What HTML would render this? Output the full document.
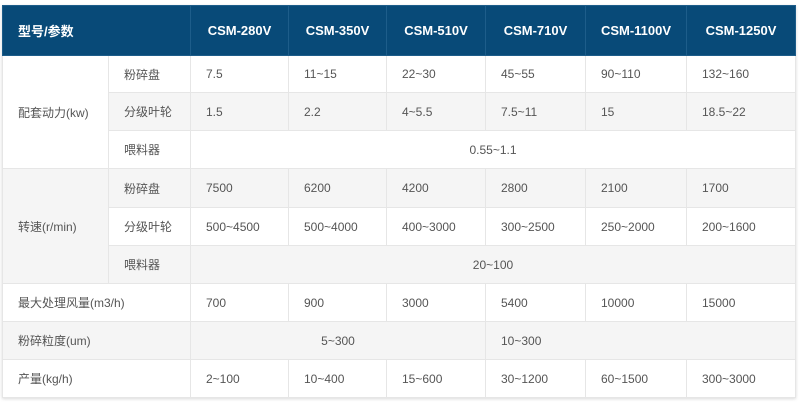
<!DOCTYPE html>
<html><head><meta charset="utf-8"><style>
html,body{margin:0;padding:0;background:#fff;width:800px;height:403px;overflow:hidden}
table{position:absolute;left:2px;top:5px;border-collapse:collapse;table-layout:fixed;width:793px;
font-family:"Liberation Sans","Noto Sans CJK SC",sans-serif;font-size:12px;color:#555;box-shadow:0 1px 3px rgba(0,0,0,0.15)}
td,th{border:1px solid #e6e6e6;padding:0 0 0 15px;text-align:left;white-space:nowrap;overflow:hidden}
th{background:#084a78;color:#fff;font-weight:bold;font-size:13px;text-align:center;padding:0;border-color:#1d5d8a}
th.l{text-align:left;padding-left:15px}
tr.g td{background:#f5f5f5}
td.w{background:#fff!important}
td.c{text-align:center;padding:0}
</style></head><body>
<table>
<colgroup><col style="width:106px"><col style="width:82px"><col style="width:98px"><col style="width:98px"><col style="width:99px"><col style="width:100px"><col style="width:101px"><col style="width:109px"></colgroup>
<tr style="height:50px"><th class="l" colspan="2">型号/参数</th><th>CSM-280V</th><th>CSM-350V</th><th>CSM-510V</th><th>CSM-710V</th><th>CSM-1100V</th><th>CSM-1250V</th></tr>
<tr style="height:37px"><td rowspan="3" class="w">配套动力(kw)</td><td>粉碎盘</td><td>7.5</td><td>11~15</td><td>22~30</td><td>45~55</td><td>90~110</td><td>132~160</td></tr>
<tr class="g" style="height:38px"><td>分级叶轮</td><td>1.5</td><td>2.2</td><td>4~5.5</td><td>7.5~11</td><td>15</td><td>18.5~22</td></tr>
<tr style="height:38px"><td>喂料器</td><td colspan="6" class="c">0.55~1.1</td></tr>
<tr class="g" style="height:39px"><td rowspan="3">转速(r/min)</td><td>粉碎盘</td><td>7500</td><td>6200</td><td>4200</td><td>2800</td><td>2100</td><td>1700</td></tr>
<tr style="height:38px"><td>分级叶轮</td><td>500~4500</td><td>500~4000</td><td>400~3000</td><td>300~2500</td><td>250~2000</td><td>200~1600</td></tr>
<tr class="g" style="height:38px"><td>喂料器</td><td colspan="6" class="c">20~100</td></tr>
<tr style="height:38px"><td colspan="2">最大处理风量(m3/h)</td><td>700</td><td>900</td><td>3000</td><td>5400</td><td>10000</td><td>15000</td></tr>
<tr class="g" style="height:38px"><td colspan="2">粉碎粒度(um)</td><td colspan="3" class="c">5~300</td><td colspan="3">10~300</td></tr>
<tr style="height:38px"><td colspan="2">产量(kg/h)</td><td>2~100</td><td>10~400</td><td>15~600</td><td>30~1200</td><td>60~1500</td><td>300~3000</td></tr>
</table>
</body></html>
